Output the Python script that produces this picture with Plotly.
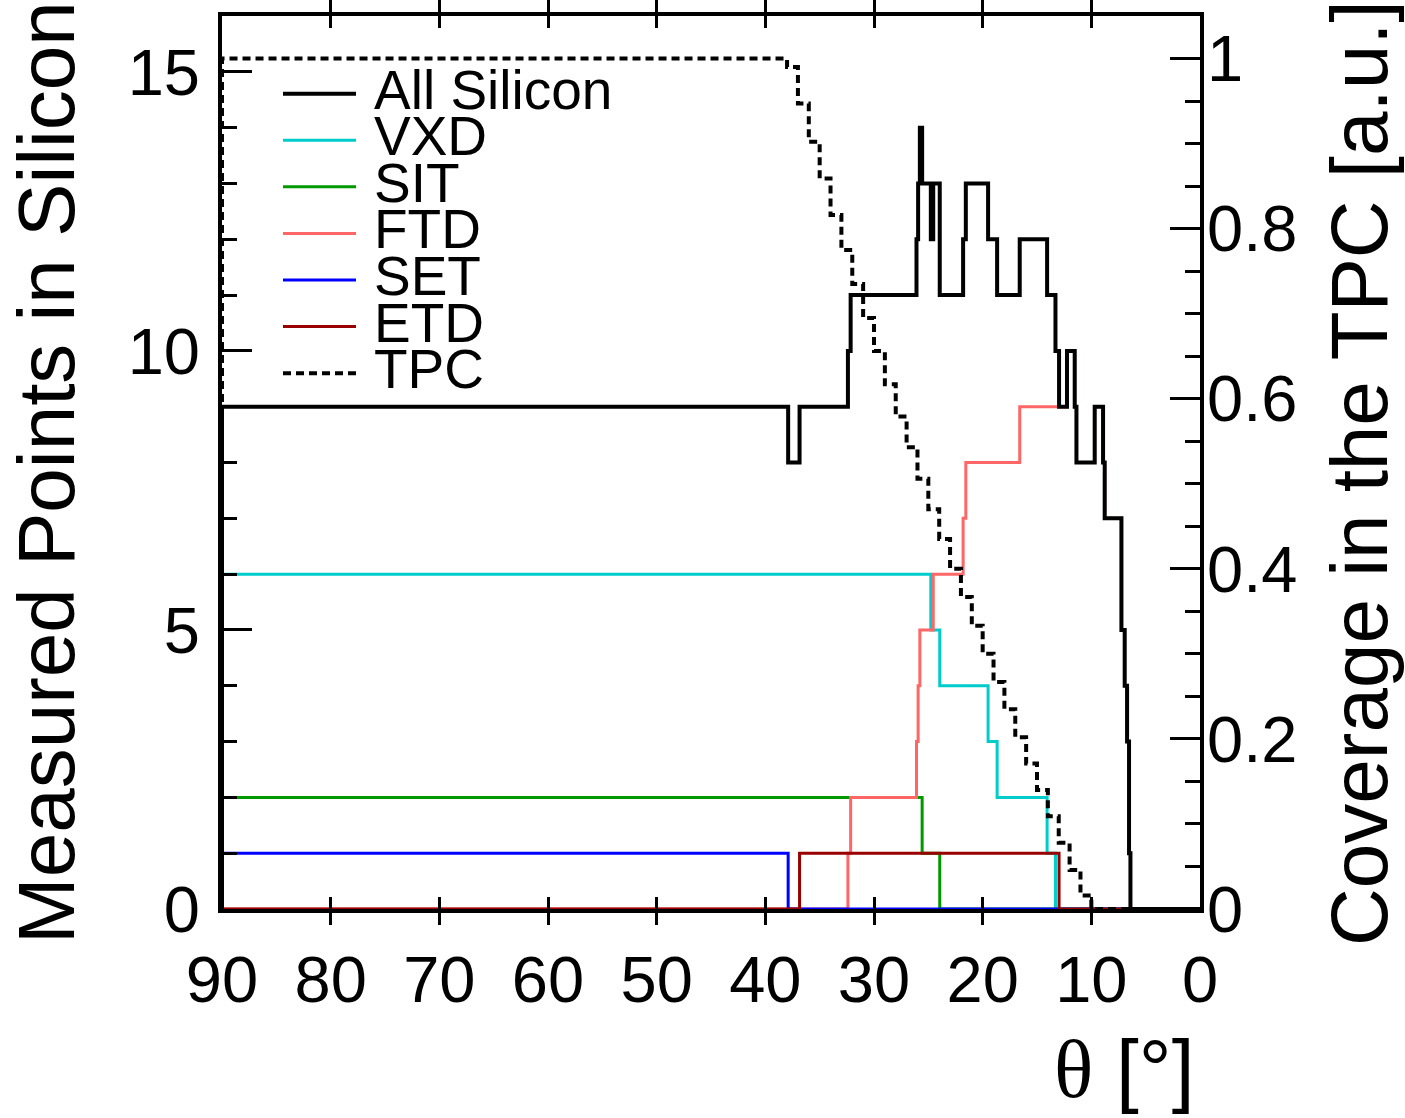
import plotly.graph_objects as go

# ---------------- data (theta in degrees, bin edges descending) ----------------
all_edges = [90, 37.9, 36.85, 32.4, 32.15, 26.09, 25.94, 25.78, 25.57, 24.77, 24.55, 23.95,
             21.8, 21.55, 19.5, 18.67, 16.59, 14.07, 13.3, 12.97, 12.24, 11.53, 11.37,
             9.69, 8.92, 8.77, 7.23, 6.93, 6.71, 6.53, 6.40, 0]
all_vals = [9, 8, 9, 10, 11, 12, 13, 14, 13, 12, 13, 11, 12, 13, 12, 11, 12, 11, 10, 9,
            10, 9, 8, 9, 8, 7, 5, 4, 3, 1, 0]

vxd_edges = [90, 24.77, 23.95, 19.5, 18.67, 14.07, 13.3, 0]
vxd_vals = [6, 5, 4, 3, 2, 1, 0]

sit_edges = [90, 25.57, 23.95, 0]
sit_vals = [2, 1, 0]

ftd_edges = [90, 32.4, 32.15, 26.09, 25.94, 25.78, 24.55, 21.8, 21.55, 16.59, 12.24,
             11.53, 11.37, 9.69, 8.92, 8.77, 7.23, 6.93, 6.71, 6.53, 6.40, 0]
ftd_vals = [0, 1, 2, 3, 4, 5, 6, 7, 8, 9, 10, 9, 8, 9, 8, 7, 5, 4, 3, 1, 0]

set_edges = [90, 37.9, 0]
set_vals = [1, 0]

etd_edges = [90, 36.85, 12.97, 0]
etd_vals = [0, 1, 0]

tpc_edges = [90, 38, 37, 36, 35, 34, 33, 32, 31, 30, 29, 28, 27, 26, 25, 24, 23, 22, 21,
             20, 19, 18, 17, 16, 15, 14, 13, 12, 11, 10, 0]
tpc_vals = [1.0, 0.990, 0.947, 0.902, 0.859, 0.816, 0.775, 0.735, 0.695, 0.656, 0.617,
            0.579, 0.543, 0.506, 0.470, 0.435, 0.400, 0.367, 0.333, 0.300, 0.267, 0.235,
            0.202, 0.171, 0.140, 0.109, 0.078, 0.046, 0.016, 0.0]

x_ticks = [90, 80, 70, 60, 50, 40, 30, 20, 10, 0]

series_names = ["All Silicon", "VXD", "SIT", "FTD", "SET", "ETD", "TPC"]
series_colors = ["#000000", "#00CCCC", "#009900", "#FF6666", "#0000FF", "#990000", "#000000"]

FONT = "Liberation Sans, Arial, Helvetica, sans-serif"


def step_xy(edges, vals):
    x = [edges[0]] + list(edges)
    y = [0] + list(vals) + [vals[-1]]
    return x, y


fig = go.Figure()

color_of = dict(zip(series_names, series_colors))
order = [("VXD", vxd_edges, vxd_vals), ("SIT", sit_edges, sit_vals),
         ("FTD", ftd_edges, ftd_vals), ("SET", set_edges, set_vals),
         ("ETD", etd_edges, etd_vals)]
for name, e, v in order:
    x, y = step_xy(e, v)
    fig.add_trace(go.Scatter(x=x, y=y, mode="lines", name=name, line_shape="hv",
                             line=dict(color=color_of[name], width=3), showlegend=False))

x, y = step_xy(all_edges, all_vals)
fig.add_trace(go.Scatter(x=x, y=y, mode="lines", name="All Silicon", line_shape="hv",
                         line=dict(color=color_of["All Silicon"], width=4), showlegend=False))

x, y = step_xy(tpc_edges, tpc_vals)
fig.add_trace(go.Scatter(x=x, y=y, mode="lines", name="TPC", line_shape="hv", yaxis="y2",
                         line=dict(color=color_of["TPC"], width=4, dash="8px,5px"),
                         showlegend=False))

# ---------------- layout ----------------
L, R, T, B = 222, 1200, 12, 909
W, H = 1405, 1118


def px_to_paper(xp, yp):
    return (xp - L) / (R - L), (B - yp) / (B - T)


fig.update_layout(
    width=W, height=H,
    margin=dict(l=L, r=W - R, t=T, b=H - B, pad=0),
    paper_bgcolor="white", plot_bgcolor="white",
    showlegend=False,
    font=dict(family=FONT, color="black"),
    xaxis=dict(range=[90, 0], tickmode="array", tickvals=x_ticks,
               ticktext=[str(t) for t in x_ticks],
               ticks="inside", ticklen=12, tickwidth=3, tickcolor="black",
               showline=True, linewidth=4, linecolor="black", mirror="allticks",
               showgrid=False, zeroline=False,
               tickfont=dict(size=65, family=FONT), ticklabelstandoff=11),
    yaxis=dict(range=[0, 16], tick0=0, dtick=5,
               ticks="inside", ticklen=30, tickwidth=3, tickcolor="black",
               minor=dict(dtick=1, ticks="inside", ticklen=15, tickwidth=3, tickcolor="black"),
               showline=True, linewidth=4, linecolor="black", mirror=True,
               showgrid=False, zeroline=False,
               tickfont=dict(size=65, family=FONT), ticklabelstandoff=5),
    yaxis2=dict(overlaying="y", side="right", range=[0, 1.05], tick0=0, dtick=0.2,
                ticks="inside", ticklen=30, tickwidth=3, tickcolor="black",
                minor=dict(dtick=0.05, ticks="inside", ticklen=15, tickwidth=3, tickcolor="black"),
                showline=True, linewidth=4, linecolor="black",
                showgrid=False, zeroline=False,
                tickfont=dict(size=65, family=FONT), ticklabelstandoff=-10),
)

annotations = []
shapes = []

# axis titles
ax, ay = px_to_paper(47, 471)
annotations.append(dict(text="Measured Points in Silicon", xref="paper", yref="paper",
                        x=ax, y=ay, xanchor="center", yanchor="middle", textangle=-90,
                        showarrow=False, font=dict(size=80, family=FONT)))
ax, ay = px_to_paper(1360, 471)
annotations.append(dict(text="Coverage in the TPC [a.u.]", xref="paper", yref="paper",
                        x=ax, y=ay, xanchor="center", yanchor="middle", textangle=-90,
                        showarrow=False, font=dict(size=80, family=FONT)))
ax, ay = px_to_paper(1196, 1070)
annotations.append(dict(text="<span style='font-family:Liberation Serif'>θ</span> [°]",
                        xref="paper", yref="paper",
                        x=ax, y=ay, xanchor="right", yanchor="middle",
                        showarrow=False, font=dict(size=82, family=FONT)))

# manual legend
leg_y0, leg_dy = 90, 46.8
for i, name in enumerate(series_names):
    yp = leg_y0 + i * leg_dy
    x0, yy = px_to_paper(283, yp)
    x1, _ = px_to_paper(356, yp)
    shapes.append(dict(type="line", xref="paper", yref="paper", x0=x0, x1=x1, y0=yy, y1=yy,
                       line=dict(color=color_of[name], width=4 if name in ("All Silicon", "TPC") else 3,
                                 dash="8px,5px" if name == "TPC" else "solid")))
    tx, ty = px_to_paper(372, yp - 4)
    annotations.append(dict(text=name, xref="paper", yref="paper", x=tx, y=ty,
                            xanchor="left", yanchor="middle", showarrow=False,
                            font=dict(size=55, family=FONT)))

fig.update_layout(annotations=annotations, shapes=shapes)

fig.write_html("out.html")
